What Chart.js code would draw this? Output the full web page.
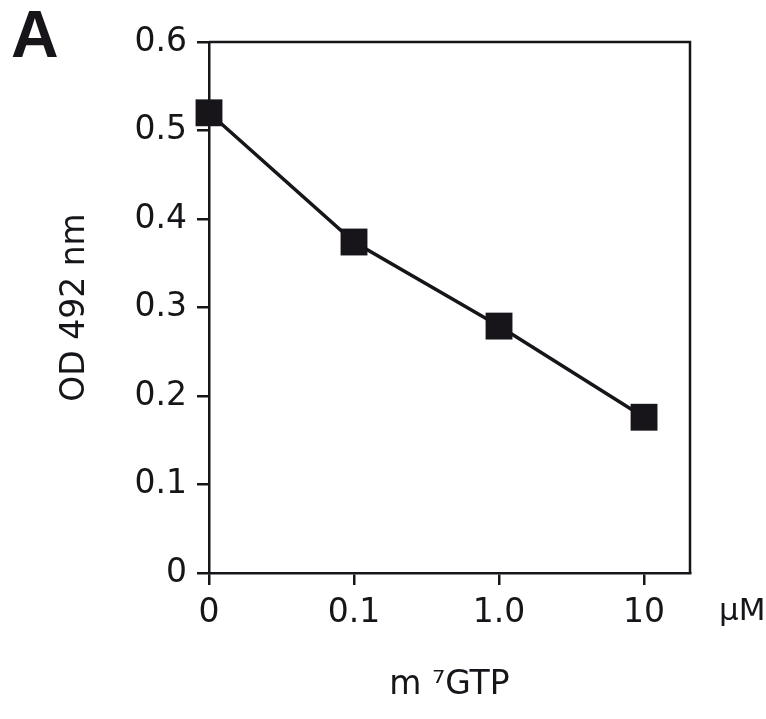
<!DOCTYPE html>
<html>
<head>
<meta charset="utf-8">
<script src="https://cdn.jsdelivr.net/npm/chart.js@4.4.1/dist/chart.umd.min.js"></script>
<style>
  html, body { margin: 0; padding: 0; background: #fff; }
  #wrap { width: 766px; height: 719px; }
</style>
</head>
<body>
<div id="wrap"><canvas id="odChart" width="766" height="719"></canvas></div>
<script>
// m7GTP concentrations (categorical x positions) and OD readings
const xLabels = ['0', '0.1', '1.0', '10'];
const odValues = [0.52, 0.374, 0.279, 0.176];
const yTicks = [0, 0.1, 0.2, 0.3, 0.4, 0.5, 0.6];

const ink = '#17151a';
const fontFam = "'DejaVu Sans', sans-serif";

// box around the plot + panel letter + unit label
const extras = {
  id: 'extras',
  afterDraw(chart) {
    const { ctx, chartArea } = chart;
    ctx.save();
    ctx.strokeStyle = ink;
    ctx.lineWidth = 2.5;
    ctx.beginPath();
    ctx.moveTo(chartArea.left, chartArea.top);
    ctx.lineTo(chartArea.right, chartArea.top);
    ctx.lineTo(chartArea.right, chartArea.bottom);
    ctx.stroke();

    ctx.fillStyle = ink;
    ctx.font = "bold 66px 'Liberation Sans', sans-serif";
    ctx.textBaseline = 'alphabetic';
    ctx.textAlign = 'left';
    ctx.fillText('A', 11, 57);

    ctx.font = '31px ' + fontFam;
    ctx.textBaseline = 'middle';
    ctx.fillText('μM', 719, 612);
    ctx.restore();
  }
};

new Chart(document.getElementById('odChart').getContext('2d'), {
  type: 'line',
  data: {
    datasets: [
      {
        label: 'OD 492 nm',
        data: odValues.map((v, i) => ({ x: i, y: v })),
        borderColor: ink,
        borderWidth: 3.5,
        pointStyle: 'rect',
        pointRadius: 19,
        pointHoverRadius: 19,
        pointBackgroundColor: ink,
        pointBorderWidth: 0,
        tension: 0,
        clip: false,
      },
    ],
  },
  options: {
    responsive: false,
    animation: false,
    events: [],
    layout: { padding: { top: 42, right: 76, left: 52, bottom: 10 } },
    plugins: {
      legend: { display: false },
      tooltip: { enabled: false },
    },
    scales: {
      x: {
        type: 'linear',
        min: 0,
        max: 3.317,
        afterBuildTicks: (scale) => {
          scale.ticks = xLabels.map((_, i) => ({ value: i }));
        },
        afterFit: (scale) => { scale.height = 136; },
        grid: { drawOnChartArea: false, drawTicks: true, tickLength: 12, color: ink, lineWidth: 2.5 },
        border: { display: true, color: ink, width: 2.5 },
        ticks: {
          padding: 9,
          color: ink,
          font: { family: fontFam, size: 33 },
          maxRotation: 0,
          callback: (v) => xLabels[v],
        },
        title: {
          display: true,
          text: 'm ⁷GTP',
          color: ink,
          font: { family: fontFam, size: 33 },
          padding: { top: 0, bottom: 4 },
        },
      },
      y: {
        min: 0,
        max: 0.6,
        afterBuildTicks: (scale) => {
          scale.ticks = yTicks.map((v) => ({ value: v }));
        },
        afterFit: (scale) => { scale.width = 209 - 52; },
        grid: { drawOnChartArea: false, drawTicks: true, tickLength: 12, color: ink, lineWidth: 2.5 },
        border: { display: true, color: ink, width: 2.5 },
        ticks: {
          padding: 10,
          color: ink,
          font: { family: fontFam, size: 33 },
          callback: (v) => (v === 0 ? '0' : v.toFixed(1)),
        },
        title: {
          display: true,
          text: 'OD 492 nm',
          color: ink,
          font: { family: fontFam, size: 33 },
          padding: { top: 4, bottom: 0 },
        },
      },
    },
  },
  plugins: [extras],
});
</script>
</body>
</html>
